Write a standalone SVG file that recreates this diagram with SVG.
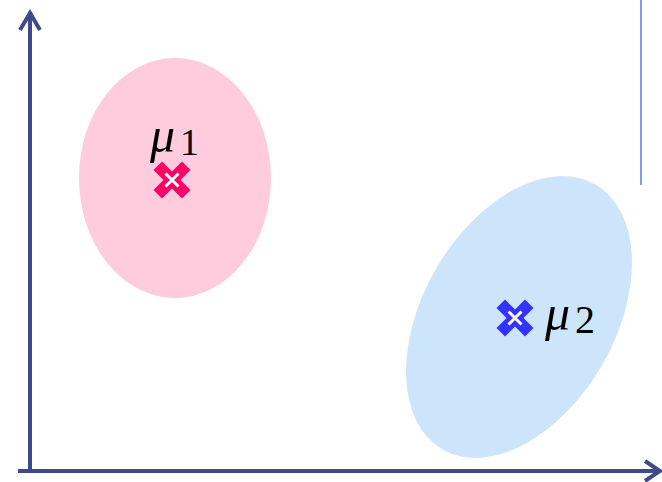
<svg xmlns="http://www.w3.org/2000/svg" width="662" height="482" viewBox="0 0 662 482">
<defs>
<style>
.axis{stroke:#3f4a8c;stroke-width:4;fill:none}
</style>
<g id="xmark">
<path d="M-10,-10 L10,10 M-10,10 L10,-10" stroke-width="12" stroke-linecap="square"/>
<path d="M-6.5,-6.5 L6.5,6.5 M-6.5,6.5 L6.5,-6.5" stroke="#fff" stroke-width="3" fill="none"/>
</g>
</defs>
<rect width="662" height="482" fill="#fff"/>
<g id="cluster1">
<ellipse cx="175" cy="178" rx="96" ry="120" fill="#ffccdd"/>
<use href="#xmark" x="172" y="180" stroke="#ff0066"/>
<text x="150" y="152" font-family="'Liberation Serif', 'DejaVu Serif', serif" fill="#000"><tspan font-style="italic" font-size="50">μ</tspan><tspan font-size="38" dx="5" dy="3">1</tspan></text>
</g>
<g id="cluster2">
<ellipse cx="519" cy="317" rx="96" ry="153" transform="rotate(30 519 317)" fill="#cce5fb"/>
<use href="#xmark" x="515" y="318" stroke="#3333ff"/>
<text x="545" y="330" font-family="'Liberation Serif', 'DejaVu Serif', serif" fill="#000"><tspan font-style="italic" font-size="50">μ</tspan><tspan font-size="40" dx="5" dy="3">2</tspan></text>
</g>
<g id="connectors">
<line class="axis" x1="30" y1="14" x2="30" y2="473"/>
<line class="axis" x1="18" y1="471" x2="658" y2="471"/>
<polyline class="axis" points="20,30 30,13 40,30"/>
<polyline class="axis" points="645,461 660,471 645,481"/>
<line x1="641" y1="0" x2="641" y2="185" stroke="#8899ee" stroke-width="2"/>
</g>
</svg>
